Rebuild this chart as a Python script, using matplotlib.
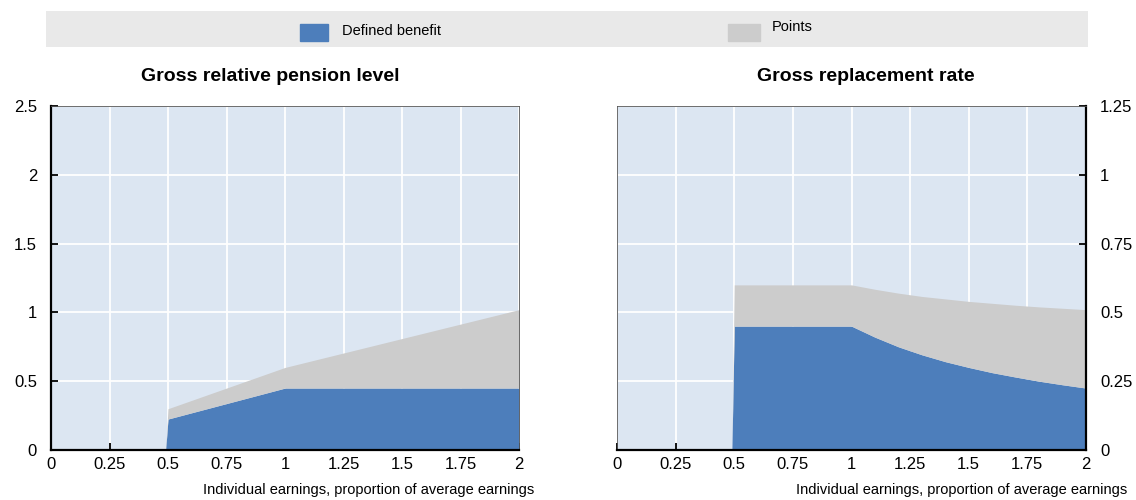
import matplotlib
matplotlib.use("Agg")
import matplotlib.pyplot as plt
from matplotlib.patches import Rectangle

plt.rcParams['font.family'] = ['Liberation Sans', 'DejaVu Sans']

# earnings as proportion of average earnings
earnings = [0.49, 0.5, 0.6, 0.7, 0.8, 0.9, 1.0, 1.1, 1.2, 1.3, 1.4, 1.5, 1.6, 1.7, 1.8, 1.9, 2.0]

# gross relative pension level (stacked)
rel_db = [0.0, 0.225, 0.27, 0.315, 0.36, 0.405, 0.45, 0.45, 0.45, 0.45, 0.45, 0.45, 0.45, 0.45, 0.45, 0.45, 0.45]
rel_total = [0.0, 0.30, 0.36, 0.42, 0.48, 0.54, 0.60, 0.642, 0.684, 0.726, 0.768, 0.81, 0.852, 0.894, 0.936, 0.978, 1.02]

# gross replacement rate (stacked)
rr_db = [0.0, 0.45, 0.45, 0.45, 0.45, 0.45, 0.45, 0.41, 0.375, 0.346, 0.321, 0.30, 0.281, 0.265, 0.25, 0.237, 0.225]
rr_total = [0.0, 0.60, 0.60, 0.60, 0.60, 0.60, 0.60, 0.584, 0.57, 0.558, 0.549, 0.54, 0.533, 0.526, 0.52, 0.515, 0.51]

x_ticks = [0, 0.25, 0.5, 0.75, 1, 1.25, 1.5, 1.75, 2]
x_labels = ["0", "0.25", "0.5", "0.75", "1", "1.25", "1.5", "1.75", "2"]
left_yticks = [0, 0.5, 1, 1.5, 2, 2.5]
left_ylabels = ["0", "0.5", "1", "1.5", "2", "2.5"]
right_yticks = [0, 0.25, 0.5, 0.75, 1, 1.25]
right_ylabels = ["0", "0.25", "0.5", "0.75", "1", "1.25"]

blue = "#4d7ebb"
grey = "#cccccc"
bg = "#dce6f2"

fig = plt.figure(figsize=(11.36, 5.0), dpi=100)

# legend strip
leg = fig.add_axes([46 / 1136, 1 - 47 / 500, (1088 - 46) / 1136, 36 / 500])
leg.set_xlim(0, 1)
leg.set_ylim(0, 1)
leg.axis("off")
leg.add_patch(Rectangle((0, 0), 1, 1, color="#e9e9e9", transform=leg.transAxes))
leg.add_patch(Rectangle(((300 - 46) / 1042, 0.18), 28 / 1042, 0.45, color=blue))
leg.text((342 - 46) / 1042, 0.45, "Defined benefit", fontsize=10.5, va="center", ha="left")
leg.add_patch(Rectangle(((728 - 46) / 1042, 0.18), 32 / 1042, 0.45, color=grey))
leg.text((772 - 46) / 1042, 0.55, "Points", fontsize=10.5, va="center", ha="left")


def style(ax, side, label_x):
    ax.set_facecolor(bg)
    ax.set_xlim(0, 2)
    ax.set_xticks(x_ticks)
    ax.set_xticklabels(x_labels, fontsize=12)
    ax.grid(True, color="white", linewidth=1.3)
    ax.set_axisbelow(True)
    for s in ax.spines.values():
        s.set_color("#555555")
        s.set_linewidth(0.6)
    ax.spines["bottom"].set_color("black")
    ax.spines["bottom"].set_linewidth(1.6)
    ax.spines[side].set_color("black")
    ax.spines[side].set_linewidth(1.6)
    ax.tick_params(axis="both", direction="in", length=5, width=1.3, color="black", pad=5)
    ax.tick_params(axis="y", pad=10)
    ax.set_xlabel("Individual earnings, proportion of average earnings", fontsize=10.5, ha="right", va="center")
    ax.xaxis.set_label_coords(label_x, -0.116)


ax1 = fig.add_axes([51 / 1136, 50 / 500, 468 / 1136, 344 / 500])
ax1.fill_between(earnings, 0, rel_db, color=blue, linewidth=0, zorder=2)
ax1.fill_between(earnings, rel_db, rel_total, color=grey, linewidth=0, zorder=2)
ax1.set_ylim(0, 2.5)
ax1.set_yticks(left_yticks)
ax1.set_yticklabels(left_ylabels, fontsize=12)
style(ax1, "left", 1.032)
ax1.set_title("Gross relative pension level", fontsize=14, fontweight="bold", x=0.468, pad=18)

ax2 = fig.add_axes([617 / 1136, 50 / 500, 469 / 1136, 344 / 500])
ax2.fill_between(earnings, 0, rr_db, color=blue, linewidth=0, zorder=2)
ax2.fill_between(earnings, rr_db, rr_total, color=grey, linewidth=0, zorder=2)
ax2.set_ylim(0, 1.25)
ax2.yaxis.tick_right()
ax2.set_yticks(right_yticks)
ax2.set_yticklabels(right_ylabels, fontsize=12)
style(ax2, "right", 1.089)
ax2.set_title("Gross replacement rate", fontsize=14, fontweight="bold", x=0.531, pad=18)

fig.savefig("out.png", dpi=100)
